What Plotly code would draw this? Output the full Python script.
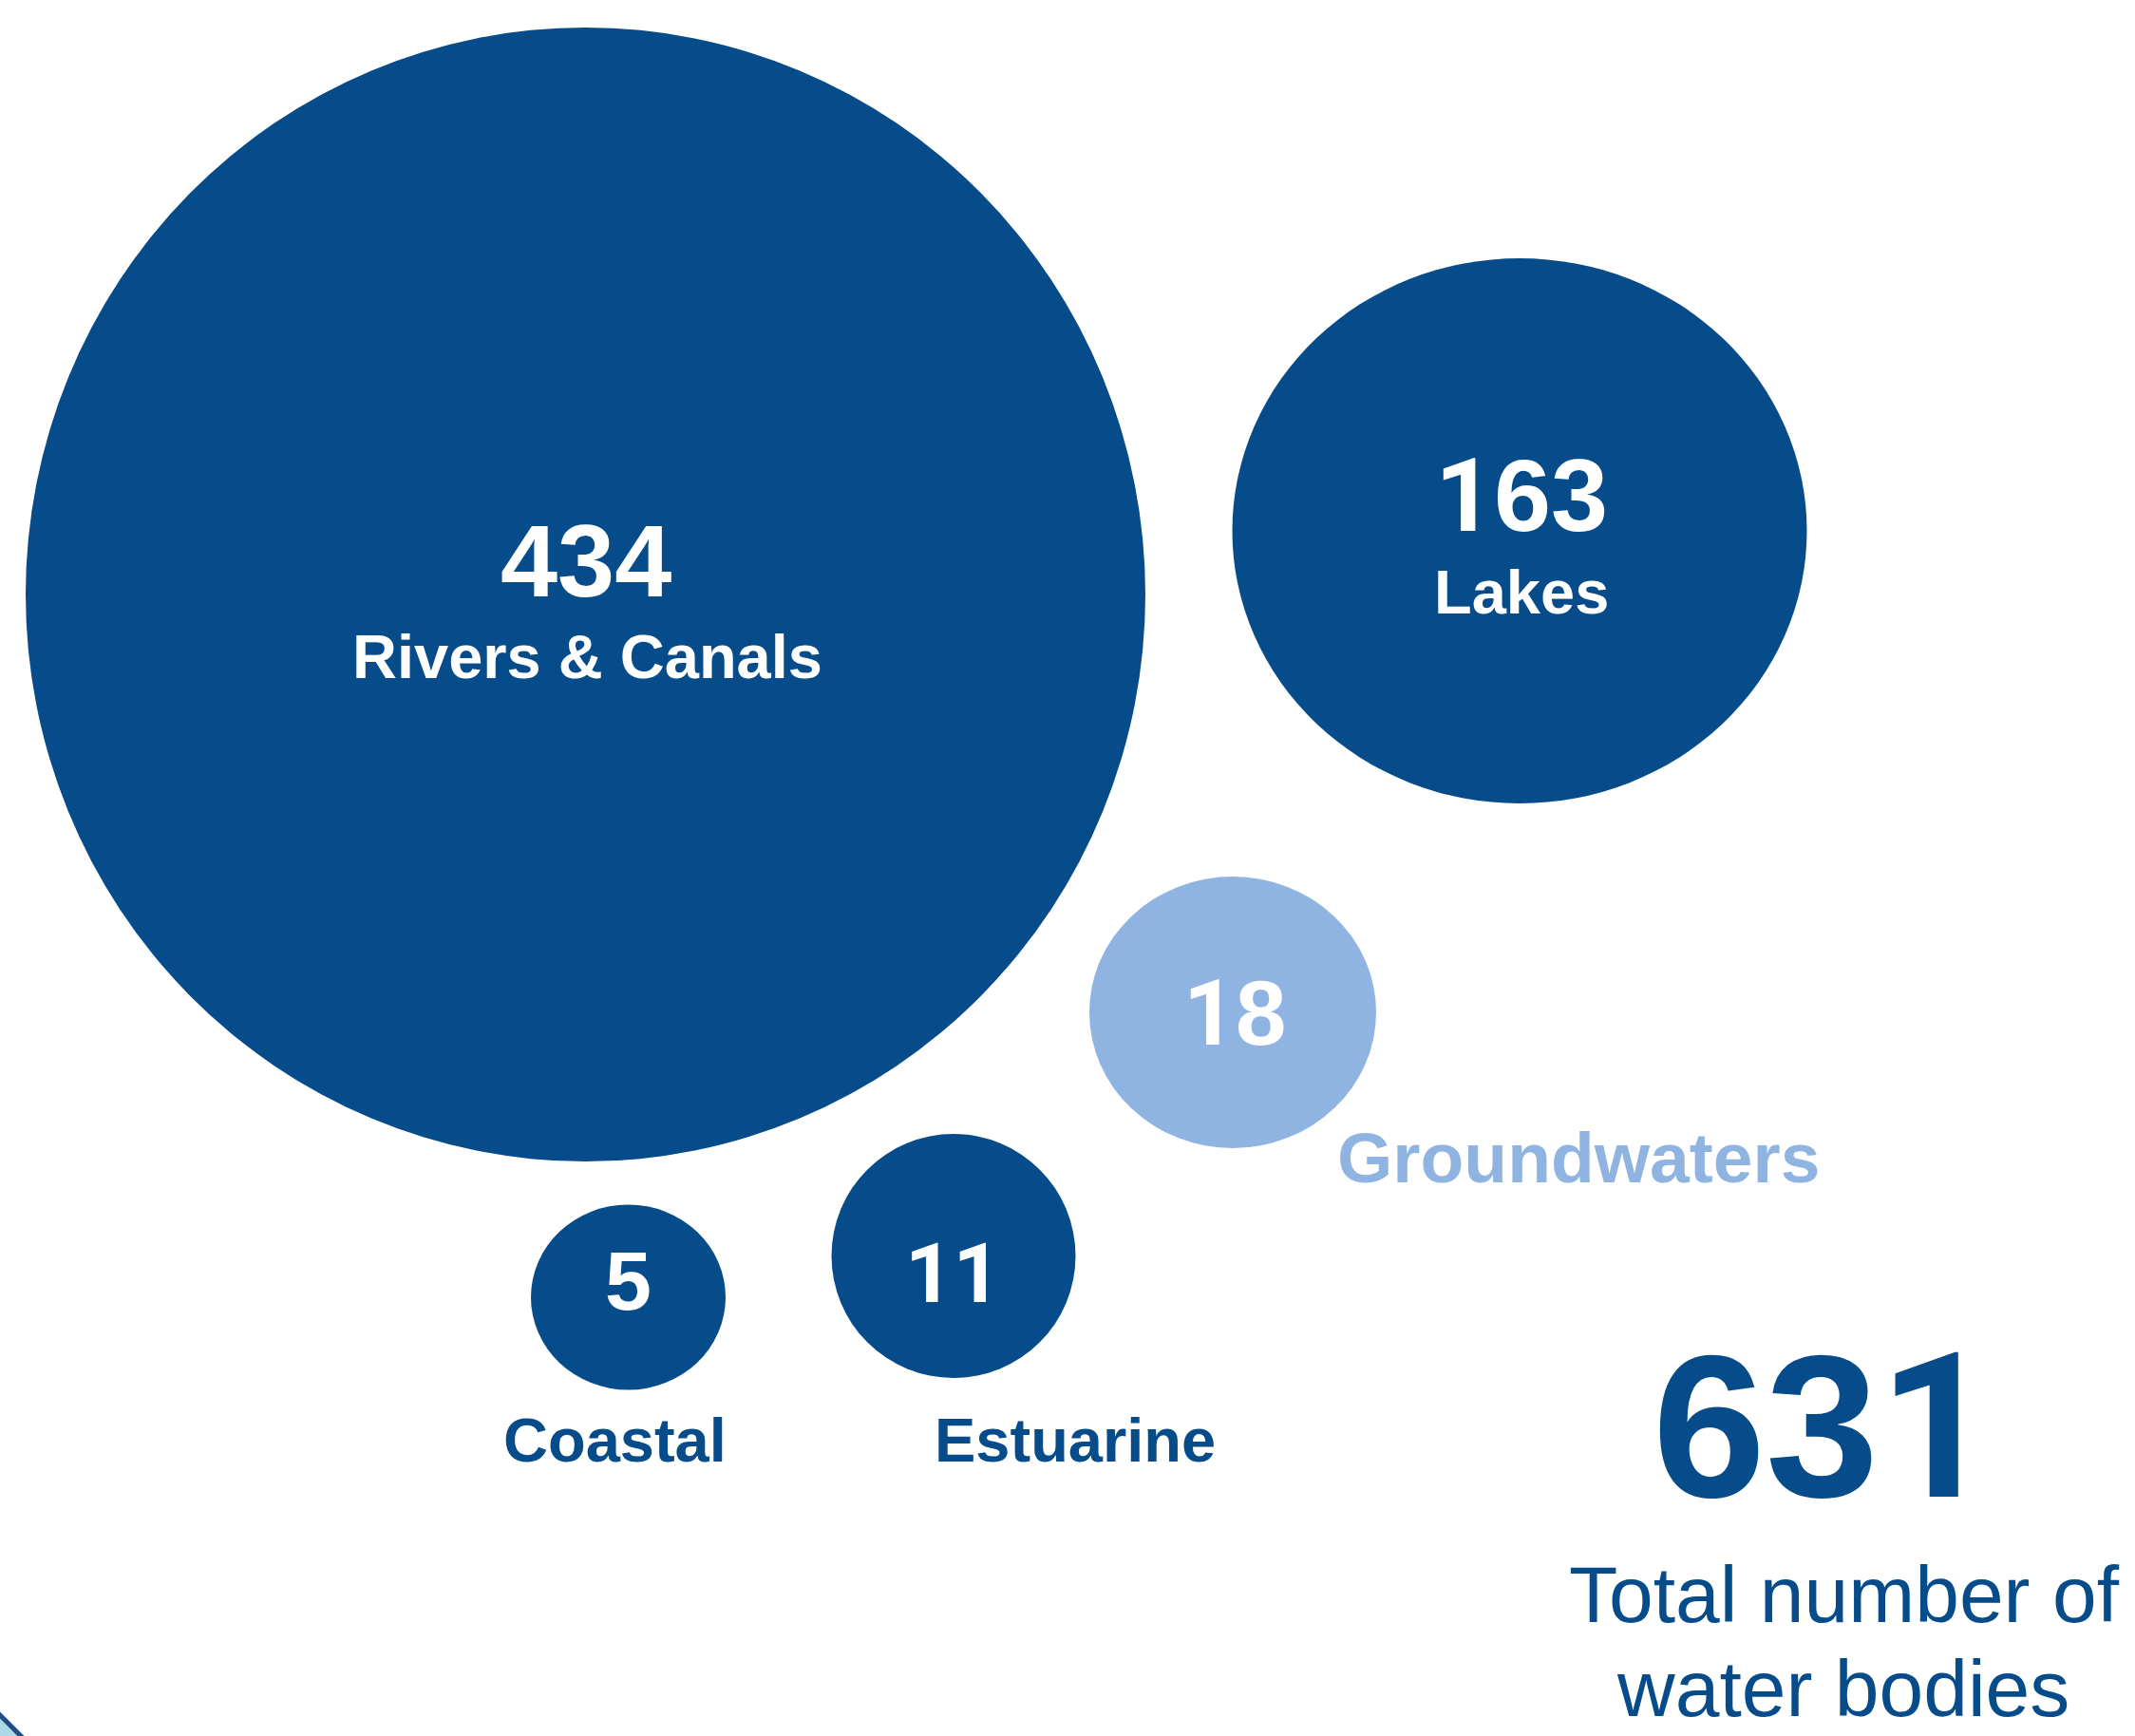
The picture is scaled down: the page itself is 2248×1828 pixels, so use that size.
import plotly.graph_objects as go

# ---- data ----
categories = ["Rivers & Canals", "Lakes", "Groundwaters", "Estuarine", "Coastal"]
counts = [434, 163, 18, 11, 5]
total_label = ["Total number of", "water bodies"]
total = sum(counts)  # 631

# ---- layout (pixel space of a 2248 x 1828 canvas) ----
W, H = 2248, 1828
cx = [616.5, 1600, 1298, 1004, 661.5]
cy = [626, 559, 1066, 1322.5, 1366]
rx = [589.5, 302.5, 151, 128.5, 102.5]
ry = [597, 287, 143, 128.5, 97.5]
fills = ["#064B8A", "#064B8A", "#8FB4E2", "#064B8A", "#064B8A"]
num_y = [590.5, 522, 1066.5, 1340.5, 1348.5]
num_x = [616.5, 1602, 1300, 1003, 661]
num_size = [108, 108, 96, 88, 88]
lab_x = [618, 1602, 1662, 1132, 647]
lab_y = [691, 623, 1219, 1516, 1516]
lab_size = [65, 65, 75, 65, 65]
lab_color = ["#FFFFFF", "#FFFFFF", "#8FB4E2", "#064B8A", "#064B8A"]

DARK = "#064B8A"
FONT = "Liberation Sans"


def num_text(v):
    # Arial-style digits; the "1" is taken from Roboto (no foot serif)
    s = "".join("<span style='font-family:Roboto'>1</span>" if ch == "1" else ch for ch in str(v))
    return f"<b>{s}</b>"


fig = go.Figure()
fig.add_trace(go.Scatter(x=[0, W], y=[0, H], mode="markers",
                         marker=dict(opacity=0), hoverinfo="skip", showlegend=False))

shapes = []
for i in range(len(categories)):
    shapes.append(dict(type="circle", xref="x", yref="y",
                       x0=cx[i] - rx[i], x1=cx[i] + rx[i],
                       y0=cy[i] - ry[i], y1=cy[i] + ry[i],
                       fillcolor=fills[i], line=dict(width=0), layer="below"))
# cut-off decoration in bottom-left corner
shapes.append(dict(type="path", xref="x", yref="y", path=f"M 0,1806 L 22,{H} L 0,{H} Z",
                   fillcolor="#ADD8E6", line=dict(width=0)))
shapes.append(dict(type="line", xref="x", yref="y", x0=-2, y0=1804, x1=24, y1=H + 2,
                   line=dict(color="#1F4E86", width=5)))

annotations = []
for i in range(len(categories)):
    annotations.append(dict(x=num_x[i], y=num_y[i], xref="x", yref="y", text=num_text(counts[i]),
                            showarrow=False, xanchor="center", yanchor="middle",
                            font=dict(family=FONT, size=num_size[i], color="#FFFFFF")))
    annotations.append(dict(x=lab_x[i], y=lab_y[i], xref="x", yref="y", text=f"<b>{categories[i]}</b>",
                            showarrow=False, xanchor="center", yanchor="middle",
                            font=dict(family=FONT, size=lab_size[i], color=lab_color[i])))

annotations.append(dict(x=1920, y=1502, xref="x", yref="y", text=num_text(total),
                        showarrow=False, xanchor="center", yanchor="middle",
                        font=dict(family=FONT, size=214, color=DARK)))
annotations.append(dict(x=1942, y=1679, xref="x", yref="y", text=total_label[0],
                        showarrow=False, xanchor="center", yanchor="middle",
                        font=dict(family=FONT, size=84, color=DARK)))
annotations.append(dict(x=1940, y=1777.5, xref="x", yref="y", text=total_label[1],
                        showarrow=False, xanchor="center", yanchor="middle",
                        font=dict(family=FONT, size=84, color=DARK)))

fig.update_layout(
    width=W, height=H, margin=dict(l=0, r=0, t=0, b=0),
    paper_bgcolor="white", plot_bgcolor="white",
    xaxis=dict(range=[0, W], visible=False, fixedrange=True),
    yaxis=dict(range=[H, 0], visible=False, fixedrange=True),
    shapes=shapes, annotations=annotations, showlegend=False,
)

fig.write_html("out.html", config={"displayModeBar": False})
